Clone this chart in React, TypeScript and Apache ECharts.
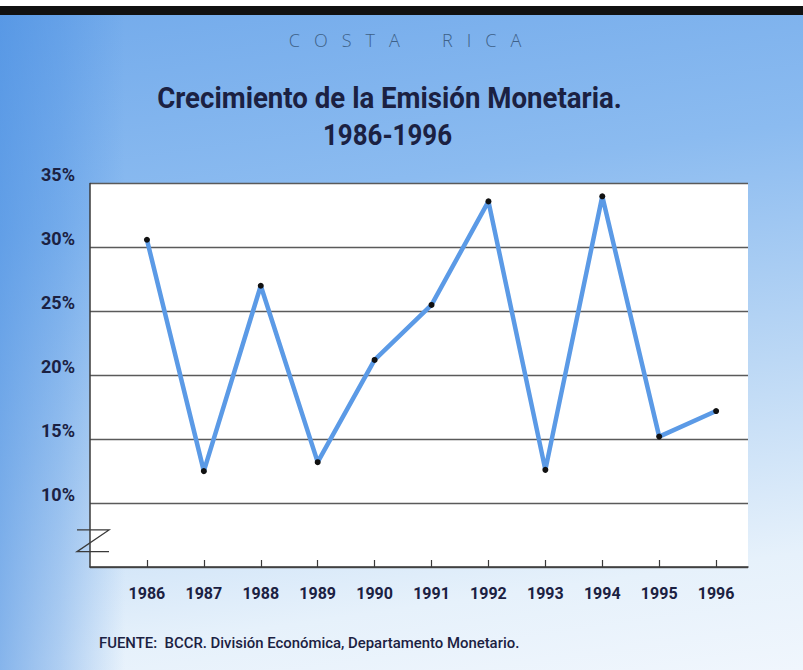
import React, { useEffect, useRef } from "react";
import * as echarts from "echarts";

const years = [1986, 1987, 1988, 1989, 1990, 1991, 1992, 1993, 1994, 1995, 1996];
const growth = [30.6, 12.5, 27.0, 13.2, 21.2, 25.5, 33.6, 12.6, 34.0, 15.2, 17.2];
const yTicks = [10, 15, 20, 25, 30, 35];
const countryText = "C   O   S   T   A         R   I   C   A";
const titleLine1 = "Crecimiento de la Emisión Monetaria.";
const titleLine2 = "1986-1996";
const sourceText = "FUENTE:  BCCR. División Económica, Departamento Monetario.";

const FONT = "Roboto, 'Noto Sans', sans-serif";
const INK = "#1b2142";

function measure(text: string, font: string): number {
  const ctx = document.createElement("canvas").getContext("2d");
  if (!ctx) return 0;
  ctx.font = font;
  return ctx.measureText(text).width;
}

export default function App() {
  const ref = useRef<HTMLDivElement>(null);
  useEffect(() => {
    if (!ref.current) return;
    const chart = echarts.init(ref.current, undefined, { renderer: "svg" });

    const titleFont = "bold 29px " + FONT;
    const srcFont = "500 15px " + FONT;
    const t1w = measure(titleLine1, titleFont) || 465;
    const t2w = measure(titleLine2, titleFont) || 129;
    const sw = measure(sourceText, srcFont) || 421;
    const s1 = 465 / t1w;
    const s2 = 129 / t2w;
    const s3 = 421 / sw;

    chart.setOption({
      animation: false,
      backgroundColor: "transparent",
      grid: {
        left: 90,
        right: 55,
        top: 183.5,
        bottom: 103,
        show: true,
        backgroundColor: "#ffffff",
        borderWidth: 0,
      },
      xAxis: {
        type: "value",
        min: 1985,
        max: 1996.56,
        axisLine: { show: true, lineStyle: { color: "#3a3a3a", width: 1.5 } },
        axisTick: {
          show: true,
          inside: true,
          length: 7,
          customValues: years,
          lineStyle: { color: "#3a3a3a", width: 1.2 },
        },
        axisLabel: {
          customValues: years,
          margin: 18,
          fontFamily: FONT,
          fontWeight: "bold",
          fontSize: 16,
          color: INK,
          formatter: (v: number) => String(v),
        },
        splitLine: { show: false },
      },
      yAxis: {
        type: "value",
        min: 5,
        max: 35,
        interval: 5,
        axisLine: { show: true, lineStyle: { color: "#3a3a3a", width: 1.5 } },
        axisTick: { show: false },
        axisLabel: {
          customValues: yTicks,
          margin: 15,
          fontFamily: FONT,
          fontWeight: "bold",
          fontSize: 18,
          color: INK,
          verticalAlign: "bottom",
          formatter: (v: number) => v + "%",
        },
        splitLine: { show: true, lineStyle: { color: "#5a5a5a", width: 1.4 } },
      },
      series: [
        {
          type: "line",
          data: years.map((y, i) => [y, growth[i]]),
          lineStyle: { color: "#5b9ae6", width: 4.5 },
          symbol: "circle",
          symbolSize: 6,
          itemStyle: { color: "#111111" },
          showSymbol: true,
          z: 3,
        },
      ],
      graphic: [
        { type: "rect", shape: { x: 0, y: 0, width: 803, height: 6 }, style: { fill: "#ffffff" } },
        { type: "rect", shape: { x: 0, y: 6, width: 803, height: 9 }, style: { fill: "#111111" } },
        {
          type: "text",
          x: 405,
          y: 49,
          style: {
            text: countryText,
            textAlign: "center",
            textVerticalAlign: "bottom",
            font: "300 18px 'Open Sans', 'Noto Sans', sans-serif",
            fill: "#3e6188",
          },
        },
        {
          type: "text",
          x: 389.5,
          y: 113,
          scaleX: s1,
          style: {
            text: titleLine1,
            textAlign: "center",
            textVerticalAlign: "bottom",
            font: titleFont,
            fill: INK,
          },
        },
        {
          type: "text",
          x: 387.5,
          y: 149,
          scaleX: s2,
          style: {
            text: titleLine2,
            textAlign: "center",
            textVerticalAlign: "bottom",
            font: titleFont,
            fill: INK,
          },
        },
        {
          type: "text",
          x: 99,
          y: 650,
          scaleX: s3,
          style: {
            text: sourceText,
            textAlign: "left",
            textVerticalAlign: "bottom",
            font: srcFont,
            fill: INK,
          },
        },
      ],
    });

    // axis break "Z" placed relative to the axis scale
    const p0 = chart.convertToPixel({ gridIndex: 0 }, [1985, 7.9]) as number[];
    const p1 = chart.convertToPixel({ gridIndex: 0 }, [1985, 6.2]) as number[];
    if (p0 && p1) {
      const x0 = p0[0] - 13;
      const x1 = p0[0] + 19;
      chart.setOption({
        graphic: [
          {
            id: "zbreak",
            type: "polyline",
            shape: {
              points: [
                [x0, p0[1]],
                [x1, p0[1]],
                [x0, p1[1]],
                [x1, p1[1]],
              ],
            },
            style: { stroke: "#3a3a3a", lineWidth: 1.3, fill: null },
            z: 10,
          },
        ],
      });
    }
    return () => chart.dispose();
  }, []);

  return (
    <div
      style={{
        position: "fixed",
        left: 0,
        top: 0,
        width: 803,
        height: 670,
        background:
          "linear-gradient(90deg, rgba(70,140,225,0.6) 0px, rgba(70,140,225,0.35) 60px, rgba(70,140,225,0) 125px), linear-gradient(172deg, #72aaeb 0%, #8bbbf0 30%, #bcd8f5 60%, #e6f1fb 85%, #f0f6fd 100%)",
      }}
    >
      <div ref={ref} style={{ width: 803, height: 670 }} />
    </div>
  );
}
